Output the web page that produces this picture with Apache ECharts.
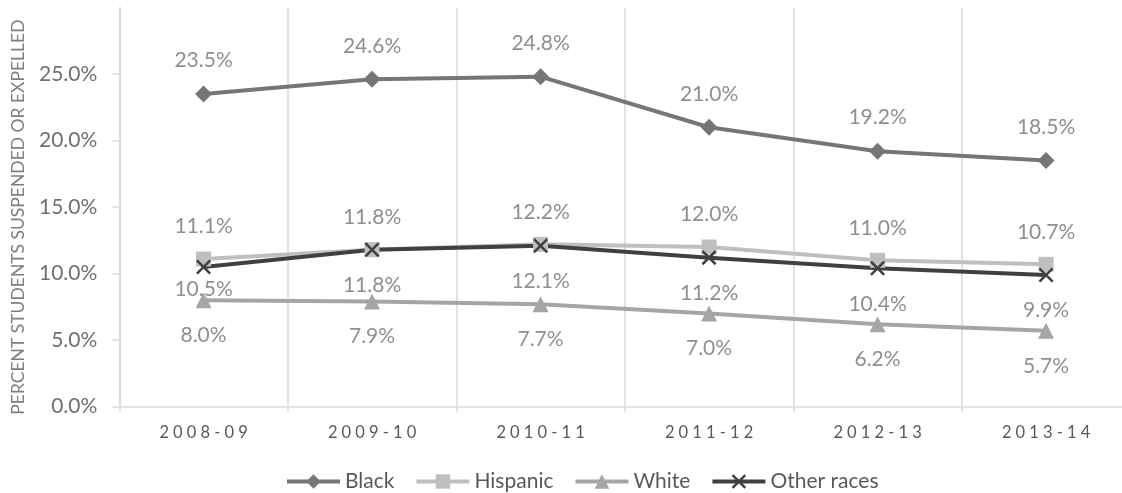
<!DOCTYPE html>
<html>
<head>
<meta charset="utf-8">
<script src="https://cdn.jsdelivr.net/npm/echarts@6/dist/echarts.min.js"></script>
<style>
  html, body { margin: 0; padding: 0; background: #fff; }
  #chart { width: 1122px; height: 493px; }
</style>
</head>
<body>
<div id="chart"></div>
<script>
// School years on the category axis
const years = ['2008-09', '2009-10', '2010-11', '2011-12', '2012-13', '2013-14'];

// Percent of students suspended or expelled, by race
const black = [23.5, 24.6, 24.8, 21.0, 19.2, 18.5];
const hispanic = [11.1, 11.8, 12.2, 12.0, 11.0, 10.7];
const white = [8.0, 7.9, 7.7, 7.0, 6.2, 5.7];
const otherRaces = [10.5, 11.8, 12.1, 11.2, 10.4, 9.9];

// Value axis ticks
const yTicks = [0, 5, 10, 15, 20, 25];

const FONT = 'Lato';
const GRID_COLOR = '#d9d9d9';
const X_MARK = 'path://M0,1.2L1.2,0L5,3.8L8.8,0L10,1.2L6.2,5L10,8.8L8.8,10L5,6.2L1.2,10L0,8.8L3.8,5Z';

const pct = v => v.toFixed(1) + '%';
// widely tracked year labels
const spaced = s => s.split('').join('\u2005');

function labelCfg(position, distance) {
  return {
    show: true,
    position: position,
    distance: distance,
    color: '#8f8f8f',
    fontFamily: FONT,
    fontSize: 21,
    lineHeight: 20,
    formatter: p => pct(p.value)
  };
}

function lineSeries(name, data, color, symbol, size, lineWidth, label) {
  return {
    name: name,
    type: 'line',
    data: data,
    symbol: symbol,
    symbolSize: size,
    showAllSymbol: true,
    lineStyle: { color: color, width: lineWidth },
    itemStyle: { color: color },
    label: label,
    emphasis: { disabled: true },
    animation: false
  };
}

const chart = echarts.init(document.getElementById('chart'), null, { renderer: 'canvas' });

chart.setOption({
  backgroundColor: '#ffffff',
  animation: false,
  grid: {
    left: 119.3, width: 1011, top: 7.5, bottom: 86.3,
    containLabel: false, outerBoundsMode: 'none'
  },
  legend: {
    left: 280,
    top: 466,
    padding: 5,
    itemWidth: 53,
    itemHeight: 18,
    itemGap: 20,
    lineStyle: { width: 4 },
    textStyle: { color: '#595959', fontFamily: FONT, fontSize: 21 },
    data: ['Black', 'Hispanic', 'White', 'Other races']
  },
  xAxis: {
    type: 'category',
    data: years,
    boundaryGap: true,
    axisLine: { show: true, lineStyle: { color: GRID_COLOR, width: 1.5 } },
    axisTick: { show: true, length: 5, lineStyle: { color: GRID_COLOR, width: 1.5 } },
    splitLine: { show: true, lineStyle: { color: GRID_COLOR, width: 1.5 } },
    axisLabel: {
      color: '#595959',
      fontFamily: FONT,
      fontSize: 16.5,
      lineHeight: 20,
      margin: 16,
      formatter: v => spaced(v)
    }
  },
  yAxis: {
    type: 'value',
    min: 0,
    max: 30,
    interval: 5,
    name: 'PERCENT STUDENTS SUSPENDED OR EXPELLED',
    nameLocation: 'middle',
    nameGap: 92,
    nameRotate: 90,
    nameTextStyle: { color: '#7f7f7f', fontFamily: FONT, fontSize: 17.5, padding: [0, 20, 0, 0] },
    axisLine: { show: true, lineStyle: { color: GRID_COLOR, width: 1.5 } },
    axisTick: { show: true, length: 7, customValues: yTicks, lineStyle: { color: GRID_COLOR, width: 1.5 } },
    splitLine: { show: false },
    axisLabel: {
      color: '#707070',
      fontFamily: FONT,
      fontSize: 21,
      margin: 22,
      customValues: yTicks,
      formatter: v => pct(v)
    }
  },
  series: [
    lineSeries('Black', black, '#767676', 'diamond', 17, 4, labelCfg('top', 15)),
    lineSeries('Hispanic', hispanic, '#bfbfbf', 'rect', 15, 4, labelCfg('top', 15)),
    lineSeries('White', white, '#a5a5a5', 'triangle', 16, 4, labelCfg('bottom', 17)),
    lineSeries('Other races',
      otherRaces.map((v, i) => i === 0 ? { value: v, label: { distance: 5 } } : v),
      '#404040', X_MARK, 15, 4, labelCfg('bottom', 18))
  ]
});
</script>
</body>
</html>
